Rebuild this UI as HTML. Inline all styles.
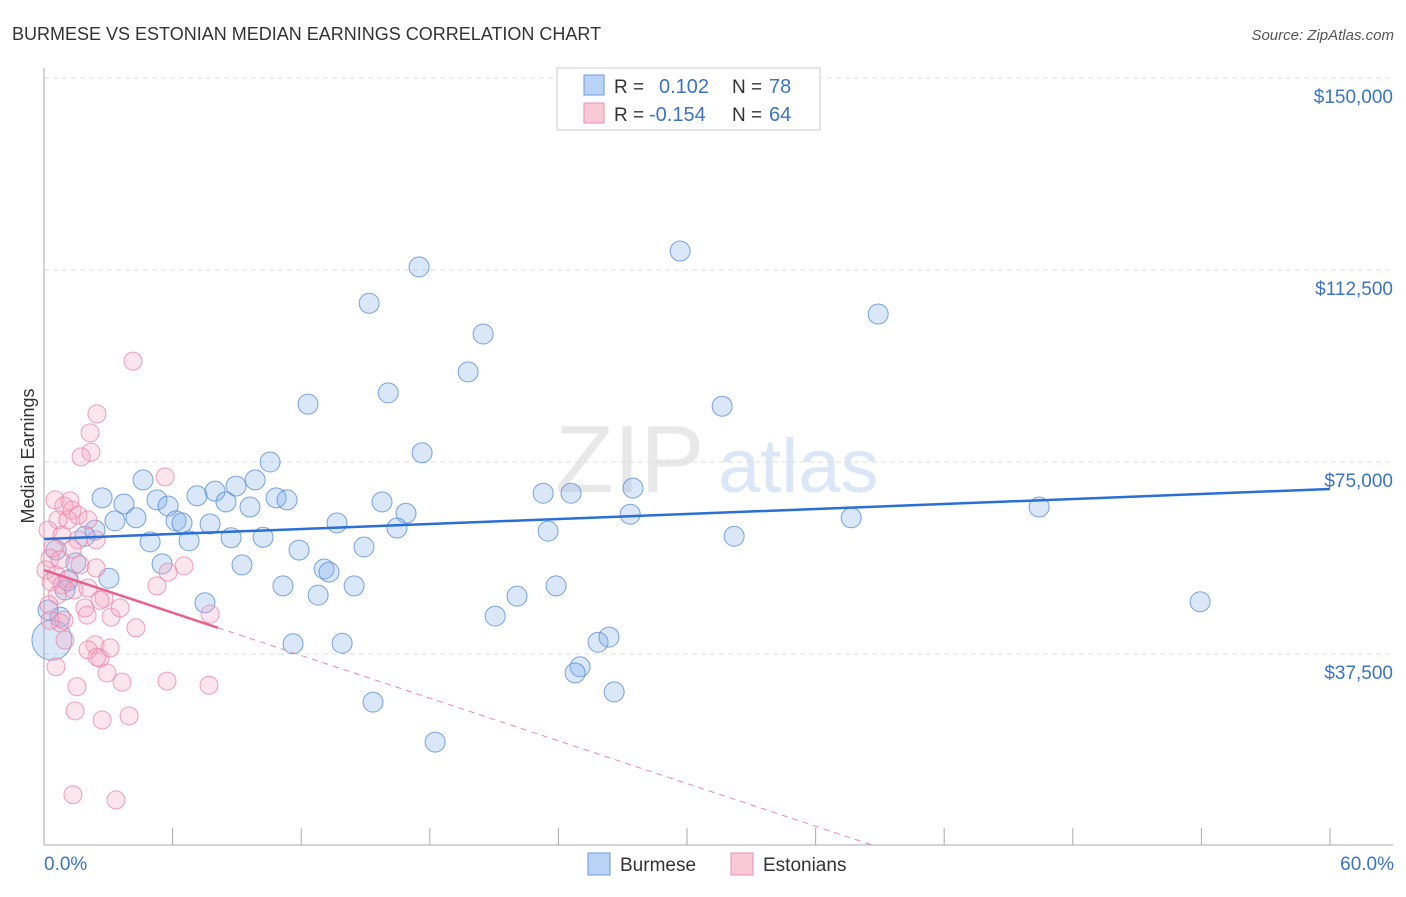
<!DOCTYPE html>
<html><head><meta charset="utf-8"><style>
body{margin:0;background:#fff;font-family:"Liberation Sans",sans-serif;}
svg text{font-family:"Liberation Sans",sans-serif;}
</style></head><body>
<svg id="c" width="1406" height="892">
<text x="12" y="40" font-size="18" fill="#333">BURMESE VS ESTONIAN MEDIAN EARNINGS CORRELATION CHART</text>
<text x="1394" y="40" font-size="15" fill="#555" font-style="italic" text-anchor="end">Source: ZipAtlas.com</text>
<text x="34" y="456" font-size="18" fill="#333" transform="rotate(-90 34 456)" text-anchor="middle">Median Earnings</text>
<g><text x="555" y="492" font-size="96" fill="#e8e8e8" font-family="Liberation Serif,serif">ZIP</text><text x="718" y="492" font-size="76" fill="#dbe7f6">atlas</text></g>
<g id="grid"></g><g id="pts"></g><g id="lines"></g>
<g>
<rect x="557" y="68" width="263" height="62" fill="#fff" stroke="#ccc"/>
<rect x="584" y="75" width="20" height="20" fill="#b9d2f5" stroke="#6a9ae0"/>
<rect x="584" y="103" width="20" height="20" fill="#f9c8d7" stroke="#ea8eac"/>
<text x="614" y="93" font-size="19" fill="#333">R =</text><text x="659" y="93" font-size="20" fill="#3b73c8">0.102</text>
<text x="732" y="93" font-size="19" fill="#333">N =</text><text x="769" y="93" font-size="20" fill="#3b73c8">78</text>
<text x="614" y="121" font-size="19" fill="#333">R =</text><text x="649" y="121" font-size="20" fill="#3b73c8">-0.154</text>
<text x="732" y="121" font-size="19" fill="#333">N =</text><text x="769" y="121" font-size="20" fill="#3b73c8">64</text>
</g>
<g>
<rect x="588" y="853" width="22" height="22" fill="#b9d2f5" stroke="#6a9ae0"/>
<text x="620" y="871" font-size="19" fill="#333">Burmese</text>
<rect x="731" y="853" width="22" height="22" fill="#f9c8d7" stroke="#ea8eac"/>
<text x="763" y="871" font-size="19" fill="#333">Estonians</text>
</g>
</svg>
<script>
const yTicks=[37500,75000,112500,150000];
const yTickLabels=["$37,500","$75,000","$112,500","$150,000"];
const xTicks=[0,6,12,18,24,30,36,42,48,54,60];
const blueX=[29.68,17.5,15.17,38.92,20.49,19.79,16.06,12.32,31.64,17.64,10.55,4.62,9.85,8.96,2.71,7.14,7.98,27.48,23.29,24.59,5.27,10.83,11.34,3.73,5.79,9.61,15.77,8.49,16.89,27.35,46.43,37.66,3.31,4.29,6.16,6.44,7.75,13.67,2.38,16.47,23.52,1.91,4.95,6.77,8.73,10.22,32.2,14.93,11.9,1.49,5.51,9.24,13.07,13.3,3.03,1.12,14.47,11.15,23.89,22.07,12.79,53.94,7.51,21.05,0.75,25.85,26.36,11.62,13.91,25.01,24.78,26.6,15.35,18.25,0.37,0.19,0.98,0.56];
const blueY=[116200,113100,106000,103900,100000,92600,88500,86300,85900,76800,75000,71500,71500,70300,68000,68400,69300,69900,68900,68900,67600,68000,67600,66800,66400,66200,67200,67200,65000,64800,66200,64100,63500,64100,63500,63100,62900,63100,61700,62100,61500,60500,59400,59600,60200,60300,60500,58400,57800,55300,55100,54900,54100,53500,52300,51800,50800,50800,50800,48800,49000,47700,47500,44900,44700,39800,40800,39500,39600,35000,33800,30100,28100,20300,40200,46100,50000,57800];
const pinkX=[4.15,2.47,2.15,2.19,1.73,5.65,0.51,1.21,0.93,1.31,1.59,0.65,1.12,2.05,0.19,0.84,1.59,2.43,0.42,1.31,0.28,0.75,1.68,2.43,0.09,0.56,1.17,0.33,0.84,1.4,2.05,5.27,5.79,6.53,2.8,0.61,0.23,1.91,2.61,2.01,3.13,4.29,0.75,0.93,2.38,2.05,2.61,2.47,0.56,2.94,3.64,5.74,7.7,1.54,1.45,2.71,3.97,1.35,3.36,7.75,3.55,0.28,0.98,3.08];
const pinkY=[94700,84400,80700,76900,76000,72100,67600,67400,66400,65600,64600,63700,63700,63700,61700,60700,59800,59800,58200,58000,56200,55900,54900,54300,53900,52900,52300,51600,51000,50000,50400,50800,53500,54700,48400,49000,47100,46500,48000,45100,44700,42600,43600,44100,39300,38300,36700,36900,35000,33800,32000,32200,31400,31100,26400,24600,25400,10000,9000,45300,46500,44100,40200,38700];
const blueTrend=[59960,69730];
const pinkTrend=[53900,-1390];
const NS="http://www.w3.org/2000/svg";
const X=v=>44+v*(1286/60), Y=v=>846-v*(192/37500);
function mk(t,a,p){const e=document.createElementNS(NS,t);for(const k in a)e.setAttribute(k,a[k]);p.appendChild(e);return e;}
const g=document.getElementById('grid');
yTicks.forEach((t,i)=>{const l=mk('line',{x1:44,x2:1393,y1:Y(t),y2:Y(t),stroke:'#ddd','stroke-dasharray':'5,4'},g);


const tx=mk('text',{x:1393,y:Y(t)+25,'font-size':19,fill:'#3b73c8','text-anchor':'end'},g);tx.textContent=yTickLabels[i];

});
mk('line',{x1:44,x2:44,y1:68,y2:845,stroke:'#aaa'},g);
mk('line',{x1:44,x2:1393,y1:845,y2:845,stroke:'#aaa'},g);
xTicks.forEach(t=>{const l=mk('line',{x1:X(t),x2:X(t),y1:828,y2:845,stroke:'#aaa'},g);

});
const a=mk('text',{x:44,y:870,'font-size':19,fill:'#3b73c8'},g);a.textContent='0.0%';


const b=mk('text',{x:1394,y:870,'font-size':19,fill:'#3b73c8','text-anchor':'end'},g);b.textContent='60.0%';


const p=document.getElementById('pts');
blueX.forEach((x,i)=>{const c=mk('circle',{cx:X(x),cy:Y(blueY[i]),r:(i==74?20:10),fill:'rgba(130,175,235,0.3)',stroke:'rgba(80,135,215,0.75)','stroke-width':1},p);

});
pinkX.forEach((x,i)=>{const c=mk('circle',{cx:X(x),cy:Y(pinkY[i]),r:9,fill:'rgba(248,170,195,0.3)',stroke:'rgba(235,130,165,0.75)','stroke-width':1},p);

});
const L=document.getElementById('lines');
const bl=mk('line',{x1:X(0),y1:Y(blueTrend[0]),x2:X(60),y2:Y(blueTrend[1]),stroke:'#2a6fd6','stroke-width':2.5},L);


const pe=8.12, pz=-pinkTrend[0]/pinkTrend[1];
const pl=mk('line',{x1:X(0),y1:Y(pinkTrend[0]),x2:X(pe),y2:Y(pinkTrend[0]+pinkTrend[1]*pe),stroke:'#e8608c','stroke-width':2.5},L);


const pd=mk('line',{x1:X(pe),y1:Y(pinkTrend[0]+pinkTrend[1]*pe),x2:X(pz),y2:Y(0),stroke:'#eb8aa8','stroke-width':1,'stroke-dasharray':'6,5'},L);


</script>
</body></html>
